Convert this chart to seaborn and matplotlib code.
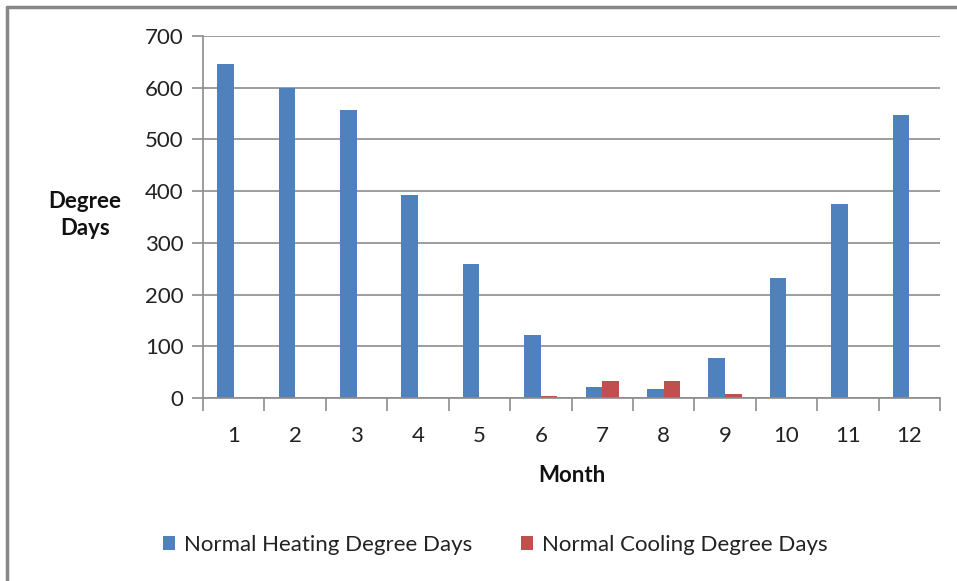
import matplotlib
matplotlib.use("Agg")
import matplotlib.pyplot as plt
import seaborn as sns
import pandas as pd
from matplotlib.lines import Line2D
from matplotlib.patches import Patch

months = ["1", "2", "3", "4", "5", "6", "7", "8", "9", "10", "11", "12"]
heating = [646, 600, 556, 393, 259, 122, 21, 18, 77, 232, 375, 547]
cooling = [0, 0, 0, 0, 0, 3, 32, 32, 8, 0, 0, 0]
series_names = ["Normal Heating Degree Days", "Normal Cooling Degree Days"]
colors = ["#4F81BD", "#C0504D"]

df = pd.DataFrame({
    "Month": months * 2,
    "Value": heating + cooling,
    "Series": [series_names[0]] * 12 + [series_names[1]] * 12,
})

sns.set_theme(style="white")
plt.rcParams['font.family'] = ['Lato', 'DejaVu Sans']
FS = 16

fig = plt.figure(figsize=(9.57, 5.81), dpi=100)
ax = fig.add_axes([203 / 957, 1 - 398 / 581, (940 - 203) / 957, (398 - 36) / 581])

sns.barplot(data=df, x="Month", y="Value", hue="Series", order=months,
            hue_order=series_names, palette=colors, width=0.54, gap=0,
            saturation=1, ax=ax, legend=False, edgecolor="none")

ax.set_ylim(0, 700)
ax.set_xlim(-0.5, 11.5)
ax.set_yticks(range(0, 701, 100))
ax.yaxis.grid(True, color="#8C8C8C", linewidth=1.2)
ax.set_axisbelow(True)
for s in ["top", "right"]:
    ax.spines[s].set_visible(False)
for s in ["left", "bottom"]:
    ax.spines[s].set_color("#8C8C8C")
    ax.spines[s].set_linewidth(1.2)

ax.tick_params(axis="y", left=True, length=8, width=1.2, color="#8C8C8C",
               labelsize=FS, labelcolor="#222222", pad=6)
ax.tick_params(axis="x", which="major", bottom=False, labelsize=FS,
               labelcolor="#222222", pad=14)
ax.set_xticks([i - 0.5 for i in range(13)], minor=True)
ax.tick_params(axis="x", which="minor", bottom=True, length=9, width=1.2,
               color="#8C8C8C")

ax.set_xlabel("Month", fontsize=FS, fontweight="bold", color="#111111", labelpad=14)
ax.set_ylabel("")
fig.text(85 / 957, 1 - 215 / 581, "Degree\nDays", ha="center", va="center",
         fontsize=FS, fontweight="bold", color="#111111", linespacing=1.3)

handles = [Patch(facecolor=c, edgecolor="none") for c in colors]
fig.legend(handles, series_names, loc="center", bbox_to_anchor=(495 / 957, 1 - 545 / 581),
           ncol=2, frameon=False, fontsize=FS, handlelength=0.55, handleheight=0.55,
           handletextpad=0.4, columnspacing=2.2, labelcolor="#222222")

# outer frame (left and top visible)
fig.add_artist(Line2D([7 / 957, 7 / 957], [0, 1 - 7 / 581], color="#888888", lw=2.5,
                      transform=fig.transFigure))
fig.add_artist(Line2D([7 / 957, 1], [1 - 7 / 581, 1 - 7 / 581], color="#888888", lw=2.5,
                      transform=fig.transFigure))

fig.savefig("out.png", dpi=100)
